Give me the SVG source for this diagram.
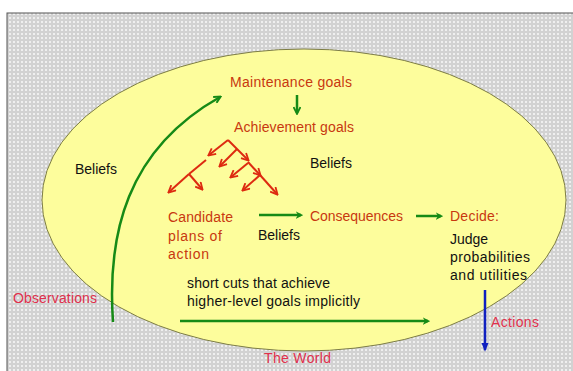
<svg xmlns="http://www.w3.org/2000/svg" width="573" height="371" viewBox="0 0 573 371">
<defs>
<pattern id="dots" width="4" height="4" patternUnits="userSpaceOnUse">
<rect width="4" height="4" fill="#d2d2d2"/>
<rect x="1" y="1" width="2" height="2" fill="#efefef"/>
</pattern>
<marker id="ag" viewBox="0 0 10 10" refX="8" refY="5" markerWidth="3.4" markerHeight="3.4" orient="auto" markerUnits="strokeWidth">
<path d="M1,1 L9,5 L1,9" fill="none" stroke="#168a16" stroke-width="2.2"/>
</marker>
<marker id="agf" viewBox="0 0 10 10" refX="7" refY="5" markerWidth="3" markerHeight="3" orient="auto" markerUnits="strokeWidth">
<path d="M0,0 L10,5 L0,10 L3,5 Z" fill="#168a16"/>
</marker>
<marker id="ar" viewBox="0 0 10 10" refX="8" refY="5" markerWidth="4.5" markerHeight="4.5" orient="auto" markerUnits="strokeWidth">
<path d="M1,1 L9,5 L1,9" fill="none" stroke="#dd2a10" stroke-width="2"/>
</marker>
<marker id="ab" viewBox="0 0 10 10" refX="8" refY="5" markerWidth="3.5" markerHeight="3.5" orient="auto" markerUnits="strokeWidth">
<path d="M0,1 L10,5 L0,9 Z" fill="#1020c0"/>
</marker>
</defs>
<style>
text{font-family:"Liberation Sans",Arial,sans-serif;font-size:14px}
.g{fill:#c8380f}
.w{fill:#e0304c}
.k{fill:#111}
.gr{fill:none;stroke:#168a16;stroke-width:2.5}
.rd{fill:none;stroke:#dd2a10;stroke-width:2;marker-end:url(#ar)}
.rl{fill:none;stroke:#dd2a10;stroke-width:2}
</style>
<rect x="0" y="0" width="573" height="371" fill="#fff"/>
<rect id="world" x="7" y="13" width="570" height="362" fill="url(#dots)" stroke="#555" stroke-width="1"/>
<ellipse id="mind" cx="304" cy="200" rx="262" ry="151" fill="#fdfd9c" stroke="#7d7d45" stroke-width="1"/>

<g id="connectors">
<path class="gr" d="M113,322 C107,235 126,150 220,97" marker-end="url(#ag)"/>
<path class="gr" d="M297,95 L297,113" marker-end="url(#ag)"/>
<path class="gr" d="M259,215 L301,215" stroke-width="2" marker-end="url(#agf)"/>
<path class="gr" d="M416,216 L441,216" stroke-width="3" marker-end="url(#agf)"/>
<path class="gr" d="M180,321 L428,321" stroke-width="2" marker-end="url(#agf)"/>
<path d="M485,290 L485,350" fill="none" stroke="#1020c0" stroke-width="2.5" marker-end="url(#ab)"/>
<g id="tree">
<path class="rd" d="M228,140 L209,155"/>
<path class="rl" d="M206,160 L189,174"/>
<path class="rd" d="M189,174 L169,192"/>
<path class="rd" d="M189,174 L202,189"/>
<path class="rd" d="M228,140 L248,160"/>
<path class="rd" d="M237,149 L220,166"/>
<path class="rd" d="M248,162 L260,175"/>
<path class="rd" d="M248,163 L231,177"/>
<path class="rd" d="M260,175 L277,194"/>
<path class="rd" d="M260,175 L243,190"/>
</g>
</g>

<g id="maintenance"><text class="g" x="230" y="87" textLength="122">Maintenance goals</text></g>
<g id="achievement"><text class="g" x="234" y="132" textLength="120">Achievement goals</text></g>
<g id="beliefs1"><text class="k" x="75" y="174" textLength="42">Beliefs</text></g>
<g id="beliefs2"><text class="k" x="310" y="168" textLength="42">Beliefs</text></g>
<g id="candidate"><text class="g" x="168" y="222" textLength="65">Candidate</text><text class="g" x="168" y="241" textLength="54">plans of</text><text class="g" x="168" y="259" textLength="41">action</text></g>
<g id="beliefs3"><text class="k" x="258" y="240" textLength="42">Beliefs</text></g>
<g id="consequences"><text class="g" x="310" y="221" textLength="93">Consequences</text></g>
<g id="decide"><text class="g" x="450" y="221" textLength="49">Decide:</text><text class="k" x="450" y="244" textLength="38">Judge</text><text class="k" x="450" y="262" textLength="80">probabilities</text><text class="k" x="450" y="280" textLength="77">and utilities</text></g>
<g id="observations"><text class="w" x="13" y="303" textLength="84">Observations</text></g>
<g id="shortcuts"><text class="k" x="187" y="288" textLength="143">short cuts that achieve</text><text class="k" x="187" y="306" textLength="173">higher-level goals implicitly</text></g>
<g id="actions"><text class="w" x="491" y="327" textLength="48">Actions</text></g>
<g id="theworld"><text class="w" x="264" y="363" textLength="67">The World</text></g>
</svg>
